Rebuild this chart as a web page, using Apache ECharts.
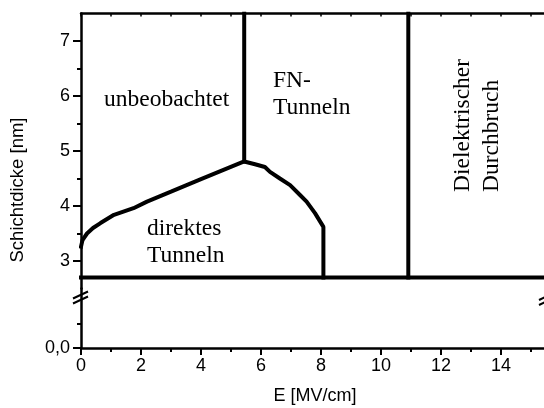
<!DOCTYPE html>
<html>
<head>
<meta charset="utf-8">
<script src="https://cdn.jsdelivr.net/npm/echarts@6/dist/echarts.min.js"></script>
<style>
  html, body { margin: 0; padding: 0; background: #fff; }
  #chart { width: 544px; height: 408px; }
</style>
</head>
<body>
<div id="chart"></div>
<script>
'use strict'

// Grenze direktes Tunneln (E in MV/cm, Schichtdicke in nm)
var curveE = [0, 0.05, 0.2, 0.4, 0.65, 1.1, 1.75, 2.2, 3, 4, 5.44, 5.8, 6.13, 6.3, 6.63, 6.97, 7.3, 7.52, 7.8, 8.08, 8.08];
var curveD = [3.26, 3.38, 3.5, 3.6, 3.69, 3.84, 3.96, 4.08, 4.26, 4.49, 4.81, 4.76, 4.71, 4.62, 4.5, 4.38, 4.2, 4.08, 3.87, 3.62, 2.7];
// FN-Tunneln Grenze
var fnE = [5.44, 5.44];
var fnD = [4.81, 7.5];
// Durchbruch Grenze
var breakE = [10.91, 10.91];
var breakD = [2.7, 7.5];
// untere Abschlusslinie
var cutE = [0, 15.6];
var cutD = [2.7, 2.7];

var upperTicks = [3, 4, 5, 6, 7];
var lowerTicks = [0];
var xTicks = [0, 2, 4, 6, 8, 10, 12, 14];

function pairs(xs, ys) {
    return xs.map(function (x, i) { return [x, ys[i]]; });
}

var serif = 'Liberation Serif';
var sans = 'Liberation Sans';

function lineSeries(xs, ys) {
    return {
        type: 'line',
        xAxisIndex: 0,
        yAxisIndex: 0,
        symbol: 'none',
        silent: true,
        lineStyle: { color: '#000', width: 4, cap: 'square' },
        data: pairs(xs, ys)
    };
}

function txt(x, y, s, rot) {
    return {
        type: 'text',
        x: x,
        y: y,
        rotation: rot || 0,
        style: {
            text: s,
            font: '23.5px "' + serif + '"',
            fill: '#000',
            align: 'left',
            verticalAlign: 'middle'
        }
    };
}

var myChart = echarts.init(document.getElementById('chart'));
var option = {
    animation: false,
    grid: [
        { left: 81, top: 13.5, width: 468, height: 275, outerBoundsMode: 'none' },
        { left: 81, top: 288.5, width: 468, height: 59.5, outerBoundsMode: 'none' }
    ],
    xAxis: [
        {
            gridIndex: 0,
            type: 'value',
            position: 'top',
            min: 0,
            max: 15.6,
            interval: 1,
            axisLine: { lineStyle: { color: '#000', width: 2.5 } },
            axisTick: { inside: true, length: 3, lineStyle: { color: '#000', width: 1.5 } },
            axisLabel: { show: false },
            splitLine: { show: false }
        },
        {
            gridIndex: 1,
            type: 'value',
            position: 'bottom',
            min: 0,
            max: 15.6,
            interval: 2,
            name: 'E [MV/cm]',
            nameLocation: 'middle',
            nameGap: 39,
            nameTextStyle: { fontFamily: sans, fontSize: 18, color: '#000' },
            axisLine: { lineStyle: { color: '#000', width: 2.5 } },
            axisTick: { length: 7, lineStyle: { color: '#000', width: 2 } },
            minorTick: { show: true, splitNumber: 2, length: 4, lineStyle: { color: '#000', width: 2 } },
            axisLabel: {
                customValues: xTicks,
                margin: 9,
                fontFamily: sans,
                fontSize: 18,
                color: '#000'
            },
            splitLine: { show: false }
        }
    ],
    yAxis: [
        {
            gridIndex: 0,
            type: 'value',
            min: 2.5,
            max: 7.5,
            splitNumber: 5,
            axisLine: { lineStyle: { color: '#000', width: 2.5 } },
            axisTick: { customValues: upperTicks, length: 8, lineStyle: { color: '#000', width: 2 } },
            minorTick: { show: true, splitNumber: 2, length: 4, lineStyle: { color: '#000', width: 2 } },
            axisLabel: {
                customValues: upperTicks,
                margin: 11,
                fontFamily: sans,
                fontSize: 18,
                color: '#000'
            },
            splitLine: { show: false }
        },
        {
            gridIndex: 1,
            type: 'value',
            min: 0,
            max: 1.24,
            interval: 1,
            axisLine: { lineStyle: { color: '#000', width: 2.5 } },
            axisTick: { customValues: lowerTicks, length: 8, lineStyle: { color: '#000', width: 2 } },
            minorTick: { show: true, splitNumber: 2, length: 4, lineStyle: { color: '#000', width: 2 } },
            axisLabel: {
                customValues: lowerTicks,
                margin: 11,
                fontFamily: sans,
                fontSize: 18,
                color: '#000',
                formatter: function (v) { return v.toFixed(1).replace('.', ','); }
            },
            splitLine: { show: false }
        }
    ],
    graphic: [
        // Achsenbruch links und rechts
        { type: 'line', shape: { x1: 73, y1: 298.5, x2: 88, y2: 291.5 }, style: { stroke: '#000', lineWidth: 2 } },
        { type: 'line', shape: { x1: 73, y1: 303.5, x2: 88, y2: 296.5 }, style: { stroke: '#000', lineWidth: 2 } },
        { type: 'line', shape: { x1: 539, y1: 300, x2: 554, y2: 293 }, style: { stroke: '#000', lineWidth: 2 } },
        { type: 'line', shape: { x1: 539, y1: 305, x2: 554, y2: 298 }, style: { stroke: '#000', lineWidth: 2 } },
        {
            type: 'text',
            x: 18,
            y: 190,
            rotation: Math.PI / 2,
            style: {
                text: 'Schichtdicke [nm]',
                font: '18.5px "' + sans + '"',
                fill: '#000',
                align: 'center',
                verticalAlign: 'middle'
            }
        },
        txt(104, 100, 'unbeobachtet'),
        txt(273, 81, 'FN-'),
        txt(273, 108, 'Tunneln'),
        txt(147, 229, 'direktes'),
        txt(147, 256, 'Tunneln'),
        txt(463, 192, 'Dielektrischer', Math.PI / 2),
        txt(492, 192, 'Durchbruch', Math.PI / 2)
    ],
    series: [
        lineSeries(curveE, curveD),
        lineSeries(fnE, fnD),
        lineSeries(breakE, breakD),
        lineSeries(cutE, cutD)
    ]
};
myChart.setOption(option);
</script>
</body>
</html>
